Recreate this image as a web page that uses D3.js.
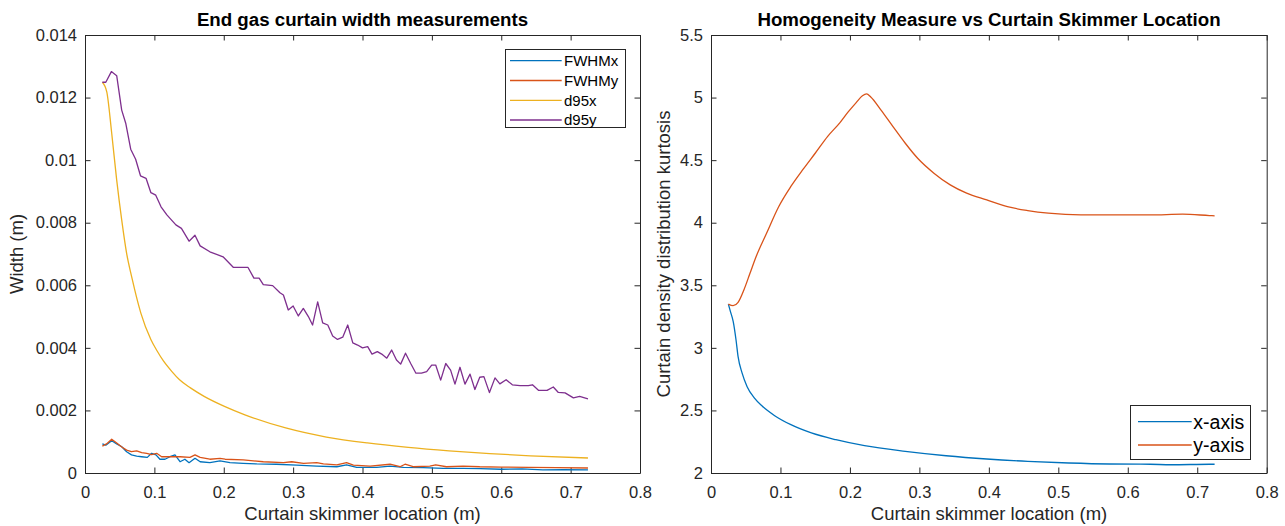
<!DOCTYPE html>
<html>
<head>
<meta charset="utf-8">
<script src="https://cdn.jsdelivr.net/npm/d3@7"></script>
<style>
    body { margin: 0; background: #fff; }
    svg { display: block; font-family: "Liberation Sans", Arial, sans-serif; }
</style>
</head>
<body>
<div id="chart"></div>
<script>
// values, [location (m), value]
const fwhmx = [[0.025,0.00093],[0.030,0.00089],[0.0385,0.00103],[0.0457,0.00093],[0.053,0.00084],[0.060,0.00068],[0.067,0.00058],[0.0745,0.00054],[0.0817,0.00052],[0.0898,0.0005],[0.096,0.00063],[0.1023,0.00058],[0.108,0.00044],[0.1153,0.00044],[0.1225,0.00052],[0.1297,0.00058],[0.137,0.00036],[0.144,0.00044],[0.150,0.00033],[0.1586,0.00047],[0.166,0.00036],[0.180,0.00033],[0.1946,0.00039],[0.209,0.00033],[0.228,0.00031],[0.2475,0.00029],[0.276,0.00028],[0.305,0.00025],[0.334,0.00022],[0.363,0.0002],[0.377,0.00026],[0.3917,0.00018],[0.4205,0.00018],[0.4397,0.00022],[0.459,0.00018],[0.4876,0.00017],[0.5165,0.00015],[0.5453,0.00015],[0.5694,0.00014],[0.60,0.00012],[0.63,0.00013],[0.66,0.0001],[0.69,0.00011],[0.725,0.0001]]
const fwhmy = [[0.025,0.00086],[0.031,0.00093],[0.0385,0.00108],[0.0457,0.00096],[0.053,0.00083],[0.060,0.00073],[0.067,0.00068],[0.0745,0.00071],[0.0817,0.00065],[0.089,0.00063],[0.096,0.00059],[0.1033,0.00063],[0.1105,0.00052],[0.1225,0.00052],[0.137,0.00052],[0.1513,0.0005],[0.1586,0.00058],[0.166,0.0005],[0.180,0.00044],[0.1946,0.00047],[0.202,0.00044],[0.228,0.00042],[0.257,0.00036],[0.286,0.00033],[0.298,0.00036],[0.315,0.00031],[0.334,0.00033],[0.3437,0.00029],[0.363,0.00026],[0.377,0.00033],[0.3869,0.00025],[0.411,0.00022],[0.4397,0.00028],[0.454,0.0002],[0.4613,0.00028],[0.473,0.0002],[0.497,0.00022],[0.5055,0.00026],[0.521,0.0002],[0.545,0.00022],[0.569,0.0002],[0.60,0.00019],[0.64,0.00018],[0.68,0.00017],[0.725,0.00016]]
const d95x = [[0.025,0.01249],[0.0313,0.01219],[0.0385,0.01086],[0.0457,0.00936],[0.0529,0.00809],[0.060,0.00702],[0.0673,0.00627],[0.0716,0.00586],[0.0805,0.00511],[0.0951,0.00426],[0.104,0.0039],[0.1128,0.00359],[0.125,0.00325],[0.1363,0.00298],[0.152,0.00272],[0.1717,0.00245],[0.201,0.00213],[0.2305,0.00186],[0.2893,0.00144],[0.348,0.00115],[0.407,0.00096],[0.466,0.00082],[0.5247,0.00071],[0.5835,0.00062],[0.642,0.00055],[0.725,0.00048]]
const d95y = [[0.025,0.01249],[0.030,0.01249],[0.038,0.01283],[0.0457,0.0127],[0.0529,0.0116],[0.0587,0.01118],[0.0659,0.01035],[0.073,0.01003],[0.080,0.0095],[0.088,0.00942],[0.095,0.00896],[0.102,0.00888],[0.1096,0.00851],[0.118,0.00825],[0.131,0.00793],[0.139,0.00782],[0.150,0.00741],[0.1585,0.0076],[0.166,0.00726],[0.180,0.00707],[0.199,0.00691],[0.214,0.00657],[0.235,0.00657],[0.2435,0.00623],[0.251,0.00623],[0.257,0.00602],[0.2705,0.00599],[0.281,0.00576],[0.286,0.00569],[0.293,0.00521],[0.300,0.00534],[0.3075,0.00502],[0.3147,0.00526],[0.322,0.005],[0.328,0.00473],[0.3354,0.00547],[0.3426,0.0048],[0.350,0.00473],[0.357,0.00438],[0.364,0.00427],[0.3715,0.00434],[0.3787,0.00473],[0.386,0.00416],[0.393,0.00409],[0.400,0.004],[0.4075,0.00404],[0.4137,0.0038],[0.4214,0.00388],[0.4277,0.0038],[0.435,0.00367],[0.442,0.00393],[0.449,0.00361],[0.455,0.00348],[0.462,0.00383],[0.4695,0.0035],[0.477,0.00319],[0.485,0.00319],[0.4925,0.00324],[0.4997,0.00345],[0.5055,0.00345],[0.5127,0.00297],[0.520,0.0035],[0.527,0.00329],[0.5333,0.00284],[0.5405,0.00338],[0.5477,0.00284],[0.555,0.00316],[0.562,0.00267],[0.569,0.00306],[0.575,0.00308],[0.583,0.00257],[0.591,0.00304],[0.598,0.00285],[0.607,0.00298],[0.616,0.00282],[0.627,0.00279],[0.639,0.00279],[0.645,0.00282],[0.654,0.00264],[0.666,0.00264],[0.675,0.00275],[0.682,0.00258],[0.692,0.00256],[0.704,0.0024],[0.713,0.00245],[0.725,0.00237]]

const kurtX = [[0.025,3.35],[0.028,3.29],[0.032,3.21],[0.036,3.065],[0.039,2.93],[0.0447,2.8],[0.052,2.69],[0.0623,2.6],[0.074,2.533],[0.0917,2.458],[0.115,2.386],[0.1445,2.32],[0.1798,2.266],[0.221,2.218],[0.2797,2.173],[0.3385,2.138],[0.397,2.112],[0.456,2.093],[0.515,2.08],[0.5737,2.072],[0.6325,2.07],[0.662,2.066],[0.7176,2.07],[0.725,2.07]]
const kurtY = [[0.025,3.35],[0.0318,3.337],[0.039,3.364],[0.0475,3.465],[0.0564,3.6],[0.065,3.73],[0.080,3.916],[0.0976,4.13],[0.115,4.29],[0.133,4.43],[0.150,4.555],[0.168,4.69],[0.1857,4.8],[0.1975,4.885],[0.209,4.96],[0.218,5.015],[0.224,5.03],[0.23,5.005],[0.2445,4.902],[0.262,4.768],[0.2797,4.635],[0.2975,4.515],[0.3209,4.396],[0.3444,4.302],[0.368,4.236],[0.397,4.182],[0.4267,4.128],[0.456,4.097],[0.4856,4.076],[0.5326,4.062],[0.5737,4.062],[0.6325,4.062],[0.679,4.068],[0.7176,4.057],[0.725,4.055]]

const xTicks = [0, 0.1, 0.2, 0.3, 0.4, 0.5, 0.6, 0.7, 0.8]
const widthTicks = [0, 0.002, 0.004, 0.006, 0.008, 0.01, 0.012, 0.014]
const kurtTicks = [2, 2.5, 3, 3.5, 4, 4.5, 5, 5.5]

const leftNames = ['FWHMx', 'FWHMy', 'd95x', 'd95y']
const rightNames = ['x-axis', 'y-axis']
const colors = ['#0072BD', '#D95319', '#EDB120', '#7E2F8E']

const ink = '#262626'

const svg = d3.select('#chart')
    .append('svg')
    .attr('width', 1285)
    .attr('height', 526)

svg.append('rect').attr('width', 1285).attr('height', 526).attr('fill', '#fff')

const addText = (x, y, str, size, opts = {}) => {
    const t = svg.append('text')
        .attr('transform', `translate(${x},${y})` + (opts.rotate ? ' rotate(-90)' : ''))
        .attr('font-size', size)
        .attr('fill', opts.fill || ink)
        .attr('text-anchor', opts.anchor || 'middle')
        .text(str)
    if (opts.bold) t.attr('font-weight', 'bold')
    return t
}

const fmt = d3.format('~g')

const drawAxes = (box, yDomain, yTicks) => {
    const x = d3.scaleLinear().domain([0, 0.8]).range([box.left, box.right])
    const y = d3.scaleLinear().domain(yDomain).range([box.bottom, box.top])

    const style = g => {
        g.attr('color', ink).attr('font-family', null).attr('font-size', 16.5)
        g.selectAll('text').attr('fill', ink)
    }

    svg.append('g')
        .attr('transform', `translate(0,${box.bottom})`)
        .call(d3.axisBottom(x).tickValues(xTicks).tickFormat(fmt).tickSizeInner(-5.5).tickSizeOuter(0).tickPadding(13))
        .call(style)
    svg.append('g')
        .attr('transform', `translate(0,${box.top})`)
        .call(d3.axisTop(x).tickValues(xTicks).tickFormat(() => '').tickSizeInner(-5.5).tickSizeOuter(0))
        .call(style)
    svg.append('g')
        .attr('transform', `translate(${box.left},0)`)
        .call(d3.axisLeft(y).tickValues(yTicks).tickFormat(fmt).tickSizeInner(-5.5).tickSizeOuter(0).tickPadding(8))
        .call(style)
    svg.append('g')
        .attr('transform', `translate(${box.right},0)`)
        .call(d3.axisRight(y).tickValues(yTicks).tickFormat(() => '').tickSizeInner(-5.5).tickSizeOuter(0))
        .call(style)

    return { x, y }
}

const drawLines = (sc, series, smooth) => {
    series.forEach((data, i) => {
        const line = d3.line()
            .x(d => sc.x(d[0]))
            .y(d => sc.y(d[1]))
        if (smooth[i]) line.curve(d3.curveMonotoneX)
        svg.append('path')
            .datum(data)
            .attr('fill', 'none')
            .attr('stroke', colors[i])
            .attr('stroke-width', 1.3)
            .attr('stroke-linejoin', 'round')
            .attr('d', line)
    })
}

const drawLegend = (box, names, rows, lineX, textX, size) => {
    svg.append('rect')
        .attr('x', box.left + 0.5).attr('y', box.top + 0.5)
        .attr('width', box.right - box.left).attr('height', box.bottom - box.top)
        .attr('fill', '#fff').attr('stroke', ink).attr('stroke-width', 1)
    names.forEach((name, i) => {
        svg.append('line')
            .attr('x1', lineX[0]).attr('x2', lineX[1])
            .attr('y1', rows[i]).attr('y2', rows[i])
            .attr('stroke', colors[i]).attr('stroke-width', 1.3)
        addText(textX, rows[i] + size * 0.36, name, size, { anchor: 'start', fill: '#000' })
    })
}

// left panel: widths
const leftBox = { left: 85, right: 640, top: 35, bottom: 473 }
const left = drawAxes(leftBox, [0, 0.014], widthTicks)
drawLines(left, [fwhmx, fwhmy, d95x, d95y], [false, false, true, false])
drawLegend({ left: 505, right: 625, top: 49, bottom: 127 }, leftNames, [60.7, 80.5, 100.3, 120], [510, 561.7], 564, 15)
addText(362.5, 26, 'End gas curtain width measurements', 18.7, { bold: true, fill: '#000' })
addText(362.5, 520, 'Curtain skimmer location (m)', 18.5)
addText(23, 254, 'Width (m)', 18.5, { rotate: true })

// right panel: kurtosis
const rightBox = { left: 711, right: 1266.7, top: 35, bottom: 473 }
const right = drawAxes(rightBox, [2, 5.5], kurtTicks)
drawLines(right, [kurtX, kurtY], [true, true])
drawLegend({ left: 1130, right: 1250, top: 405, bottom: 459 }, rightNames, [421.7, 445], [1138, 1191.7], 1193.3, 19.5)
addText(989, 26, 'Homogeneity Measure vs Curtain Skimmer Location', 18.7, { bold: true, fill: '#000' })
addText(989, 520, 'Curtain skimmer location (m)', 18.5)
addText(669.5, 254, 'Curtain density distribution kurtosis', 18.5, { rotate: true })
</script>
</body>
</html>
